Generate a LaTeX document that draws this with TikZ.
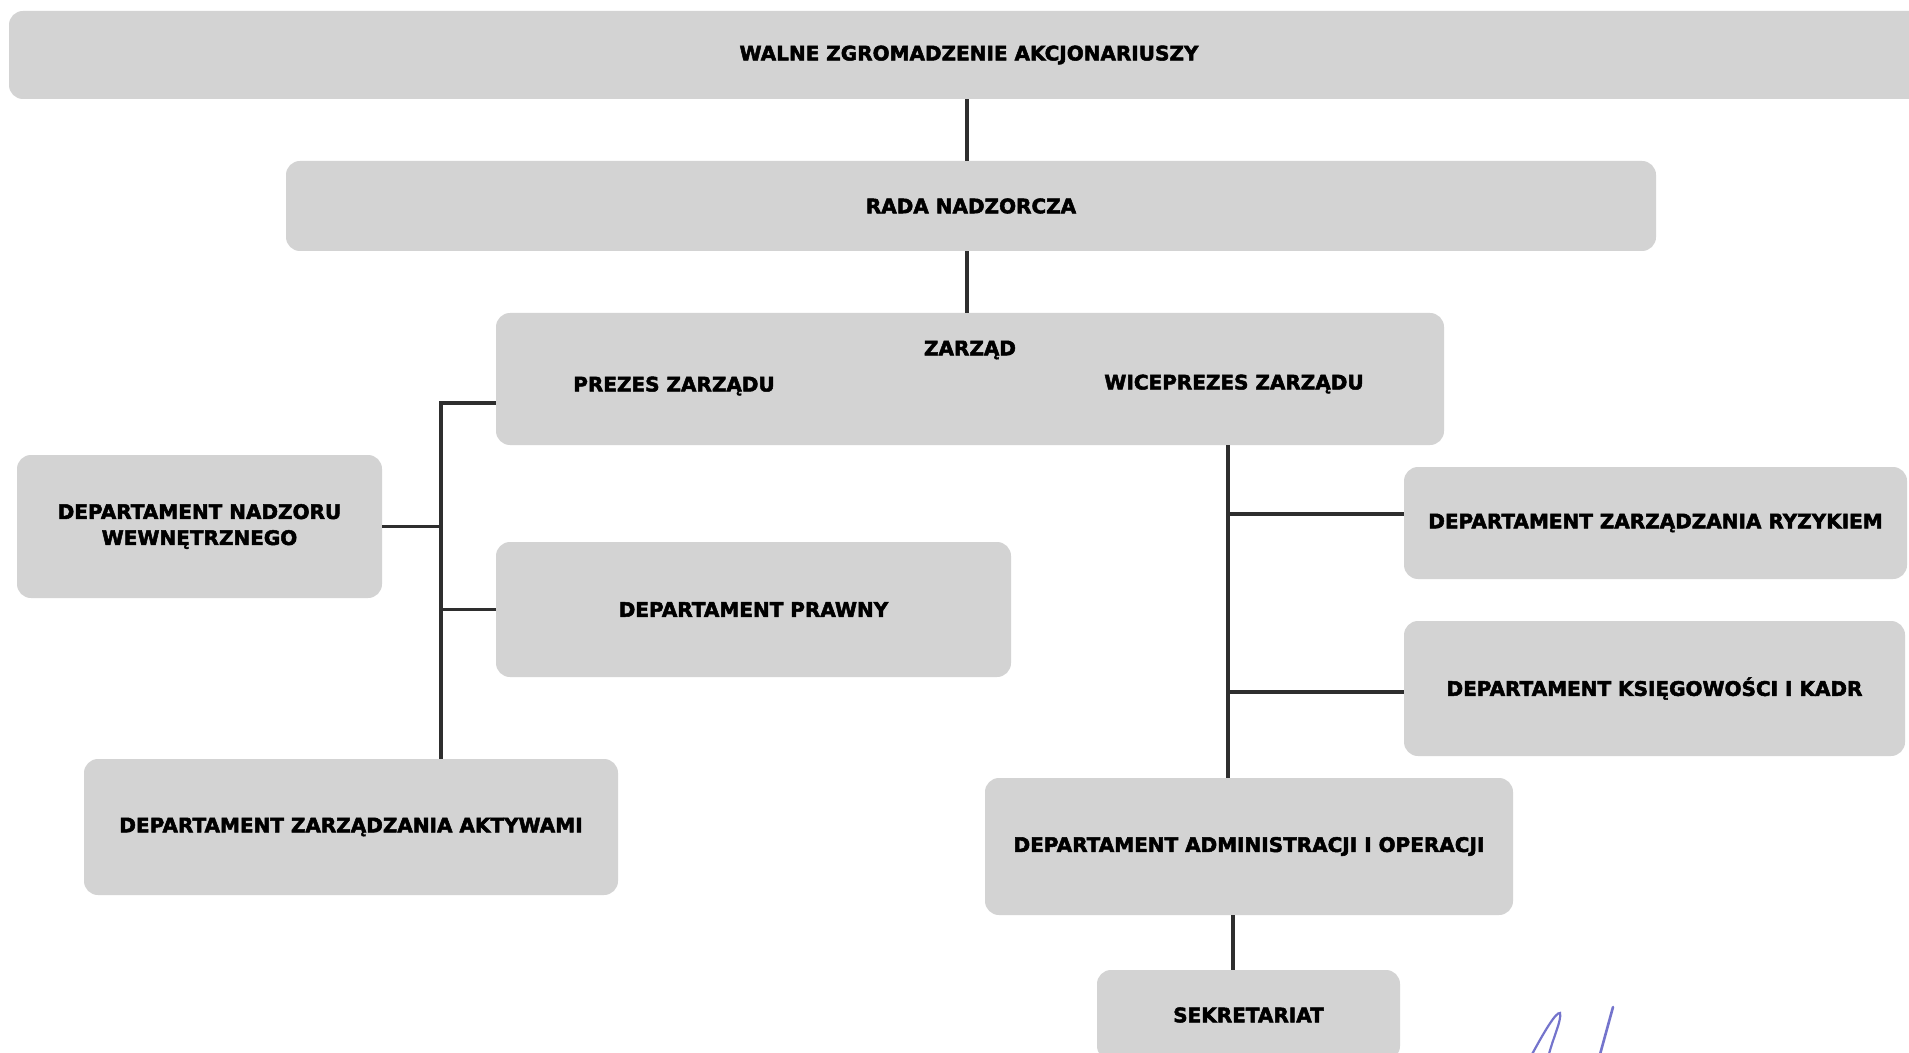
\documentclass[tikz,border=0pt]{standalone}
\usepackage{fontspec}
\setmainfont{DejaVu Sans}[BoldFeatures={FakeBold=2.5}]
\usetikzlibrary{calc}
\definecolor{boxgray}{HTML}{D3D3D3}
\definecolor{linegray}{HTML}{2E2E2E}
\definecolor{inkblue}{HTML}{7474CC}
\begin{document}
\begin{tikzpicture}[x=0.5pt,y=-0.5pt,
  box/.style={fill=boxgray, draw=none, rounded corners=7pt, inner sep=0pt,
    font=\fontsize{10pt}{13pt}\selectfont\bfseries, text=black, align=center},
  lbl/.style={inner sep=0pt, font=\fontsize{10pt}{13pt}\selectfont\bfseries, text=black},
  conn/.style={draw=linegray, line width=1.8pt}]
\useasboundingbox (0,0) rectangle (1909,1053);
\clip (0,0) rectangle (1909,1053);
\fill[white] (0,0) rectangle (1909,1053);

\node[box, minimum width=960pt, minimum height=44pt] (walne) at (969,55) {WALNE ZGROMADZENIE AKCJONARIUSZY};
\node[box, minimum width=685pt, minimum height=45pt] (rada) at (971,206) {RADA NADZORCZA};
\node[box, minimum width=474pt, minimum height=66pt] (zarzad) at (970,379) {};
\node[lbl] (zt) at (970,350) {ZARZĄD};
\node[lbl] (prezes) at (674,386) {PREZES ZARZĄDU};
\node[lbl] (wice) at (1234,384) {WICEPREZES ZARZĄDU};

\node[box, minimum width=182.5pt, minimum height=71.5pt] (nadzor) at (199.5,526.5) {DEPARTAMENT NADZORU\\WEWNĘTRZNEGO};
\node[box, minimum width=257.5pt, minimum height=67.5pt] (prawny) at (753.5,609.5) {DEPARTAMENT PRAWNY};
\node[box, minimum width=267pt, minimum height=68pt] (aktywa) at (351,827) {DEPARTAMENT ZARZĄDZANIA AKTYWAMI};

\node[box, minimum width=251.5pt, minimum height=56pt] (ryzyko) at (1655.5,523) {DEPARTAMENT ZARZĄDZANIA RYZYKIEM};
\node[box, minimum width=250.5pt, minimum height=67.5pt] (ksieg) at (1654.5,688.5) {DEPARTAMENT KSIĘGOWOŚCI I KADR};
\node[box, minimum width=264pt, minimum height=68.5pt] (admin) at (1249,846.5) {DEPARTAMENT ADMINISTRACJI I OPERACJI};
\node[box, minimum width=151.5pt, minimum height=45pt] (sekr) at (1248.5,1015) {SEKRETARIAT};

% connectors
\coordinate (c1) at (967,0);
\draw[conn] (c1 |- walne.south) -- (c1 |- rada.north);
\draw[conn] (c1 |- rada.south) -- (c1 |- zarzad.north);

\coordinate (lj) at (441,403);
\draw[conn] (lj -| zarzad.west) -- (lj) -- (lj |- aktywa.north);
\draw[conn] (nadzor.east) -- (nadzor.east -| lj);
\draw[conn] (prawny.west) -- (prawny.west -| lj);

\coordinate (rj) at (1228,514);
\coordinate (rk) at (1228,692);
\draw[conn] (rj |- zarzad.south) -- (rj |- admin.north);
\draw[conn] (rj) -- (rj -| ryzyko.west);
\draw[conn] (rk) -- (rk -| ksieg.west);

\coordinate (sj) at (1233,0);
\draw[conn] (sj |- admin.south) -- (sj |- sekr.north);

% signature strokes
\draw[inkblue, line width=1.1pt, line cap=round] (1530,1058) .. controls (1545,1030) and (1556,1012) .. (1560,1013) .. controls (1562,1020) and (1552,1040) .. (1548,1058);
\draw[inkblue, line width=1.3pt, line cap=round] (1613,1007) -- (1599,1058);
\end{tikzpicture}
\end{document}
